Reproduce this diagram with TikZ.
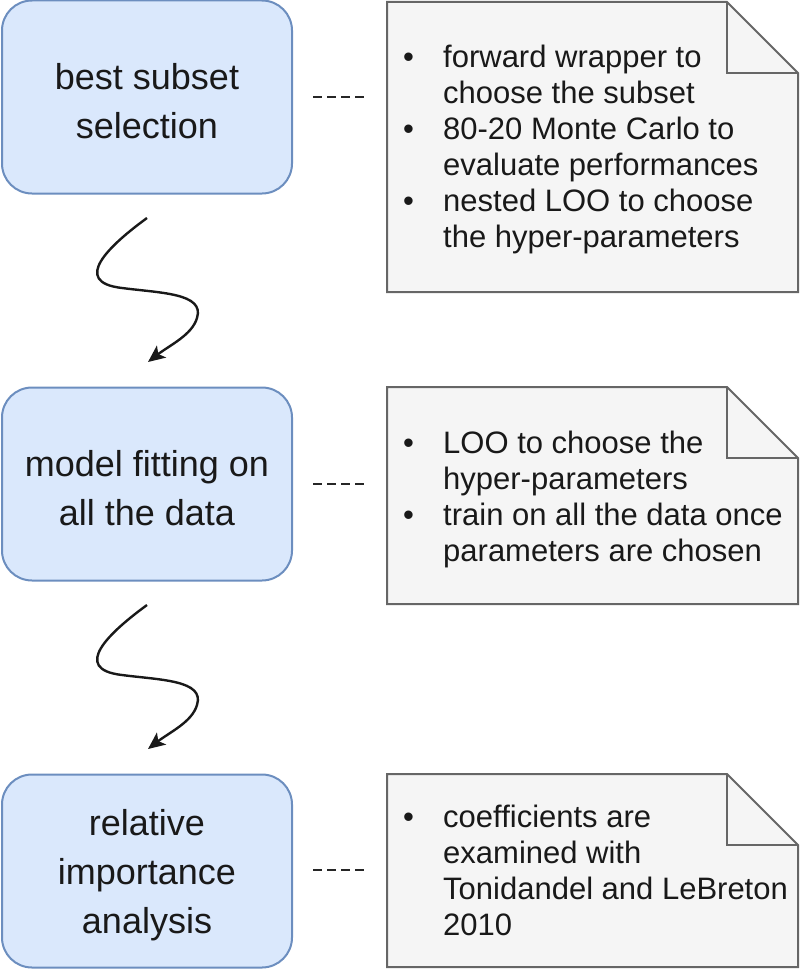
\documentclass[tikz,border=0pt]{standalone}
\usepackage{fontspec}
\setmainfont{Liberation Sans}
\usetikzlibrary{arrows.meta}
\definecolor{boxfill}{HTML}{DAE8FC}
\definecolor{boxline}{HTML}{6C8EBF}
\definecolor{notefill}{HTML}{F5F5F5}
\definecolor{noteline}{HTML}{666666}
\newcommand\drawnote[2]{%
  \draw[notepath] (387,#1) -- (727,#1) -- (798,#1+71) -- (798,#2) -- (387,#2) -- cycle;
  \draw[notepath, fill=none] (727,#1) -- (727,#1+71) -- (798,#1+71);}
\begin{document}
\begin{tikzpicture}[x=1pt,y=-1pt,
  stagebox/.style={draw=boxline, fill=boxfill, line width=2pt, rounded corners=30pt,
    minimum width=290pt, minimum height=193pt, inner sep=0pt},
  boxtext/.style={align=center, font=\fontsize{36}{49}\selectfont, inner sep=0pt, text=black!90},
  notepath/.style={draw=noteline, fill=notefill, line width=2pt, line join=miter},
  notetext/.style={anchor=west, inner sep=0pt, font=\fontsize{31}{36}\selectfont, text=black!90},
  dashline/.style={line width=2.6pt, dash pattern=on 9pt off 5pt, black!85},
  wiggle/.style={line width=2.4pt, black!90, -{Stealth[length=17pt,width=15pt,inset=4pt]}}
]
\useasboundingbox (0,0) rectangle (800,974);

% stage boxes
\node[stagebox] (b1) at (147,97) {};
\node[stagebox] (b2) at (147,484) {};
\node[stagebox] (b3) at (147,871) {};
\node[boxtext] (l1) at (147,101) {best subset\\selection};
\node[boxtext] (l2) at (147,488) {model fitting on\\all the data};
\node[boxtext] (l3) at (147,875) {relative\\importance\\analysis};

% notes
\drawnote{2}{292}
\drawnote{387}{604}
\drawnote{774}{967}

\node[notetext] (t1) at (403,150) {\begin{tabular}{@{}p{40pt}@{}l@{}}
\textbullet & forward wrapper to\\
 & choose the subset\\
\textbullet & 80-20 Monte Carlo to\\
 & evaluate performances\\
\textbullet & nested LOO to choose\\
 & the hyper-parameters
\end{tabular}};
\node[notetext] (t2) at (403,500) {\begin{tabular}{@{}p{40pt}@{}l@{}}
\textbullet & LOO to choose the\\
 & hyper-parameters\\
\textbullet & train on all the data once\\
 & parameters are chosen
\end{tabular}};
\node[notetext] (t3) at (403,874) {\begin{tabular}{@{}p{40pt}@{}l@{}}
\textbullet & coefficients are\\
 & examined with\\
 & Tonidandel and LeBreton\\
 & 2010
\end{tabular}};

% short dashed links
\coordinate (d1a) at (313,97);  \coordinate (d1b) at (366,97);
\coordinate (d2a) at (313,484); \coordinate (d2b) at (366,484);
\coordinate (d3a) at (313,870); \coordinate (d3b) at (366,870);
\draw[dashline] (d1a) -- (d1b);
\draw[dashline] (d2a) -- (d2b);
\draw[dashline] (d3a) -- (d3b);

% wiggly arrows
\coordinate (w1s) at (147,218); \coordinate (w1e) at (148,362);
\coordinate (w2s) at (147,605); \coordinate (w2e) at (148,749);
\draw[wiggle] (w1s) .. controls (110,245) and (70,282) .. (122,288)
  .. controls (160,293) and (205,293) .. (197,318)
  .. controls (192,335) and (170,345) .. (w1e);
\draw[wiggle] (w2s) .. controls (110,632) and (70,669) .. (122,675)
  .. controls (160,680) and (205,680) .. (197,705)
  .. controls (192,722) and (170,732) .. (w2e);
\end{tikzpicture}
\end{document}
